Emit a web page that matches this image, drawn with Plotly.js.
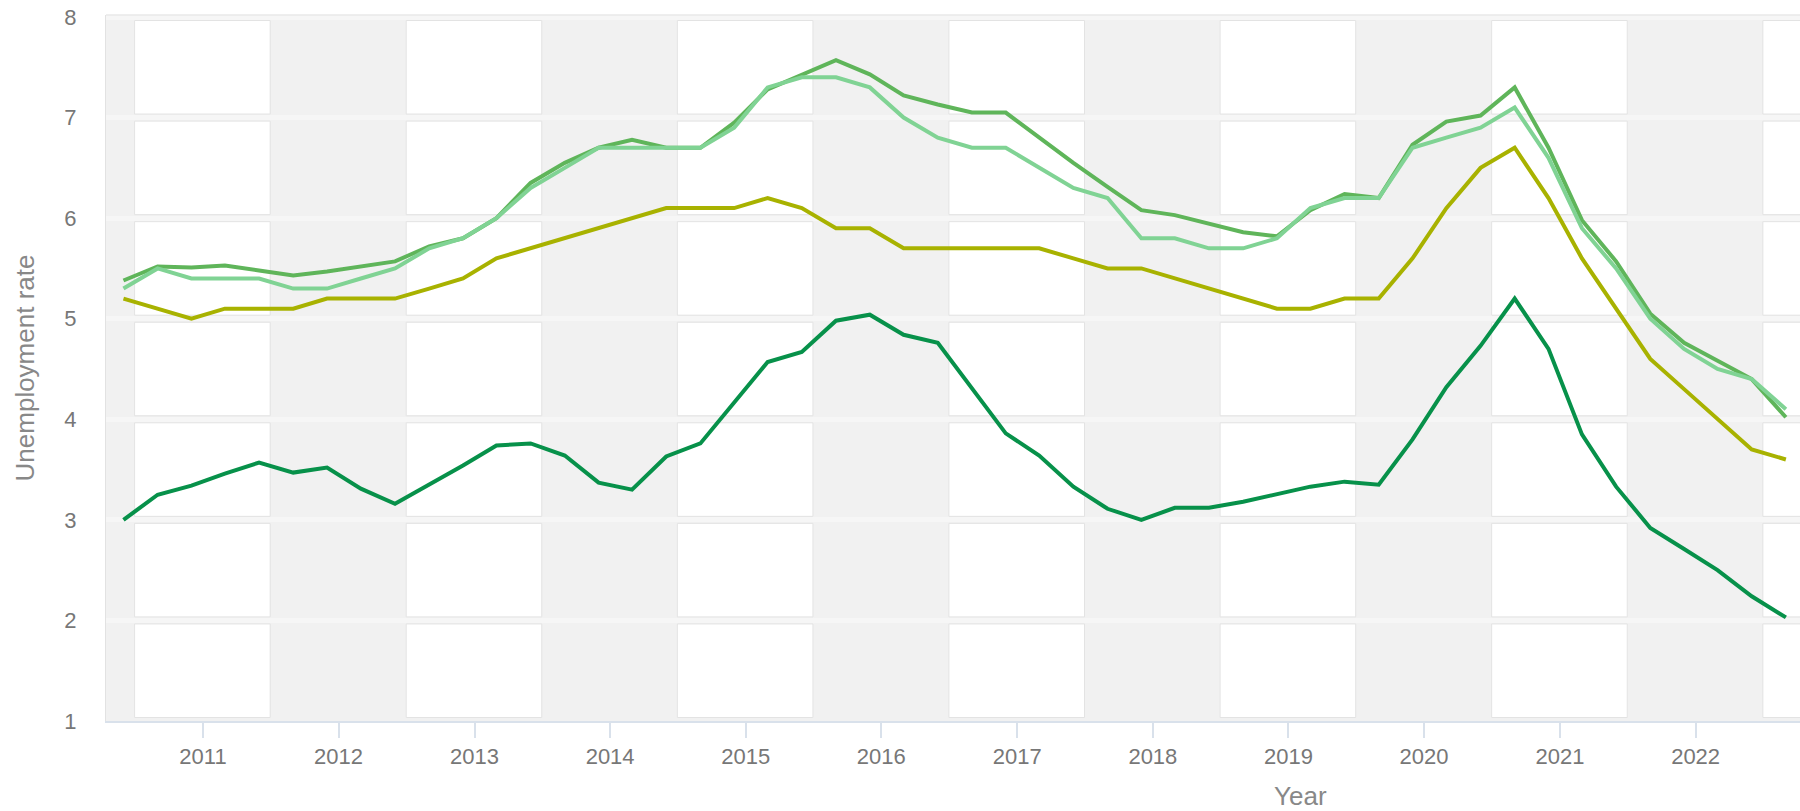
<!DOCTYPE html>
<html>
<head>
<meta charset="utf-8">
<script src="https://cdn.plot.ly/plotly-3.0.1.min.js"></script>
<style>
  html, body { margin: 0; padding: 0; background: #ffffff; }
  #chart { width: 1800px; height: 811px; }
</style>
</head>
<body>
<div id="chart"></div>
<script>
// Quarterly observation dates
const dates = [
  "2010-06-01","2010-09-01","2010-12-01",
  "2011-03-01","2011-06-01","2011-09-01","2011-12-01",
  "2012-03-01","2012-06-01","2012-09-01","2012-12-01",
  "2013-03-01","2013-06-01","2013-09-01","2013-12-01",
  "2014-03-01","2014-06-01","2014-09-01","2014-12-01",
  "2015-03-01","2015-06-01","2015-09-01","2015-12-01",
  "2016-03-01","2016-06-01","2016-09-01","2016-12-01",
  "2017-03-01","2017-06-01","2017-09-01","2017-12-01",
  "2018-03-01","2018-06-01","2018-09-01","2018-12-01",
  "2019-03-01","2019-06-01","2019-09-01","2019-12-01",
  "2020-03-01","2020-06-01","2020-09-01","2020-12-01",
  "2021-03-01","2021-06-01","2021-09-01","2021-12-01",
  "2022-03-01","2022-06-01","2022-09-01"
];

// Series values (unemployment rate, %)
const seriesDarkGreen = [3.0,3.25,3.34,3.46,3.57,3.47,3.52,3.31,3.16,3.35,3.54,3.74,3.76,3.64,3.37,3.3,3.63,3.76,4.17,4.57,4.67,4.98,5.04,4.84,4.76,4.31,3.86,3.64,3.33,3.11,3.0,3.12,3.12,3.18,3.26,3.33,3.38,3.35,3.8,4.32,4.73,5.2,4.7,3.85,3.33,2.92,2.71,2.5,2.24,2.03];
const seriesOlive = [5.2,5.1,5.0,5.1,5.1,5.1,5.2,5.2,5.2,5.3,5.4,5.6,5.7,5.8,5.9,6.0,6.1,6.1,6.1,6.2,6.1,5.9,5.9,5.7,5.7,5.7,5.7,5.7,5.6,5.5,5.5,5.4,5.3,5.2,5.1,5.1,5.2,5.2,5.6,6.1,6.5,6.7,6.2,5.6,5.1,4.6,4.3,4.0,3.7,3.6];
const seriesMidGreen = [5.38,5.52,5.51,5.53,5.48,5.43,5.47,5.52,5.57,5.72,5.8,6.0,6.35,6.55,6.7,6.78,6.7,6.7,6.95,7.28,7.42,7.57,7.43,7.22,7.13,7.05,7.05,6.8,6.55,6.31,6.08,6.03,5.94,5.86,5.82,6.08,6.24,6.2,6.73,6.96,7.02,7.3,6.7,5.98,5.57,5.05,4.76,4.58,4.4,4.02];
const seriesLightGreen = [5.3,5.5,5.4,5.4,5.4,5.3,5.3,5.4,5.5,5.7,5.8,6.0,6.3,6.5,6.7,6.7,6.7,6.7,6.9,7.3,7.4,7.4,7.3,7.0,6.8,6.7,6.7,6.5,6.3,6.2,5.8,5.8,5.7,5.7,5.8,6.1,6.2,6.2,6.7,6.8,6.9,7.1,6.6,5.9,5.5,5.0,4.7,4.5,4.4,4.1];

// Axis settings
const yTickVals = [1,2,3,4,5,6,7,8];
const whiteBandYears = [2011,2013,2015,2017,2019,2021,2023];

const FONT = "Liberation Sans, Arial, Helvetica, sans-serif";

const traces = [
  { name: "Series 3", y: seriesMidGreen, color: "#5fb55a" },
  { name: "Series 4", y: seriesLightGreen, color: "#80d394" },
  { name: "Series 2", y: seriesOlive, color: "#a8b200" },
  { name: "Series 1", y: seriesDarkGreen, color: "#07914a" }
].map(s => ({
  type: "scatter",
  mode: "lines",
  x: dates,
  y: s.y,
  name: s.name,
  line: { color: s.color, width: 4 },
  hoverinfo: "skip"
}));

// Background: white year bands split into cells between gridlines
const shapes = [];
whiteBandYears.forEach(yr => {
  for (let i = 0; i < yTickVals.length - 1; i++) {
    shapes.push({
      type: "rect", layer: "below", xref: "x", yref: "y",
      x0: (yr - 1) + "-07-01", x1: yr + "-07-01",
      y0: yTickVals[i] + 0.035, y1: yTickVals[i + 1] - 0.035,
      fillcolor: "#ffffff",
      line: { color: "#e3e3e3", width: 1 }
    });
  }
});
// faint top border
shapes.push({
  type: "line", layer: "above", xref: "paper", yref: "paper",
  x0: 0, x1: 1, y0: 1, y1: 1,
  line: { color: "#e8e8e8", width: 1.5 }
});

const layout = {
  width: 1800,
  height: 811,
  margin: { l: 106, r: 0, t: 15, b: 90, pad: 0 },
  paper_bgcolor: "#ffffff",
  plot_bgcolor: "#f1f1f1",
  showlegend: false,
  hovermode: false,
  font: { family: FONT, color: "#777777" },
  xaxis: {
    type: "date",
    range: ["2010-04-15", "2022-10-09"],
    tick0: "2011-01-01",
    dtick: "M12",
    tickformat: "%Y",
    ticks: "outside",
    ticklen: 15,
    tickwidth: 2,
    tickcolor: "#d9e1eb",
    showline: true,
    linecolor: "#d9e1eb",
    linewidth: 2,
    showgrid: false,
    zeroline: false,
    tickfont: { family: FONT, size: 22, color: "#777777" },
    automargin: false,
    fixedrange: true
  },
  yaxis: {
    range: [1, 8.02],
    tickvals: yTickVals,
    ticks: "",
    ticklabelstandoff: 24,
    showgrid: true,
    gridcolor: "#f6f6f6",
    gridwidth: 5,
    zeroline: false,
    showline: true,
    linecolor: "#e2e2e2",
    linewidth: 1,
    tickfont: { family: FONT, size: 22, color: "#777777" },
    title: { text: "Unemployment rate", font: { family: FONT, size: 26, color: "#888888" }, standoff: 22 },
    automargin: false,
    fixedrange: true
  },
  shapes: shapes,
  annotations: [
    {
      text: "Year",
      xref: "paper", yref: "paper",
      x: (1300 - 106) / 1694, y: -(796 - 721) / 706,
      xanchor: "center", yanchor: "middle",
      showarrow: false,
      font: { family: FONT, size: 26, color: "#888888" }
    }
  ]
};

Plotly.newPlot("chart", traces, layout, { displayModeBar: false, staticPlot: true });
</script>
</body>
</html>
